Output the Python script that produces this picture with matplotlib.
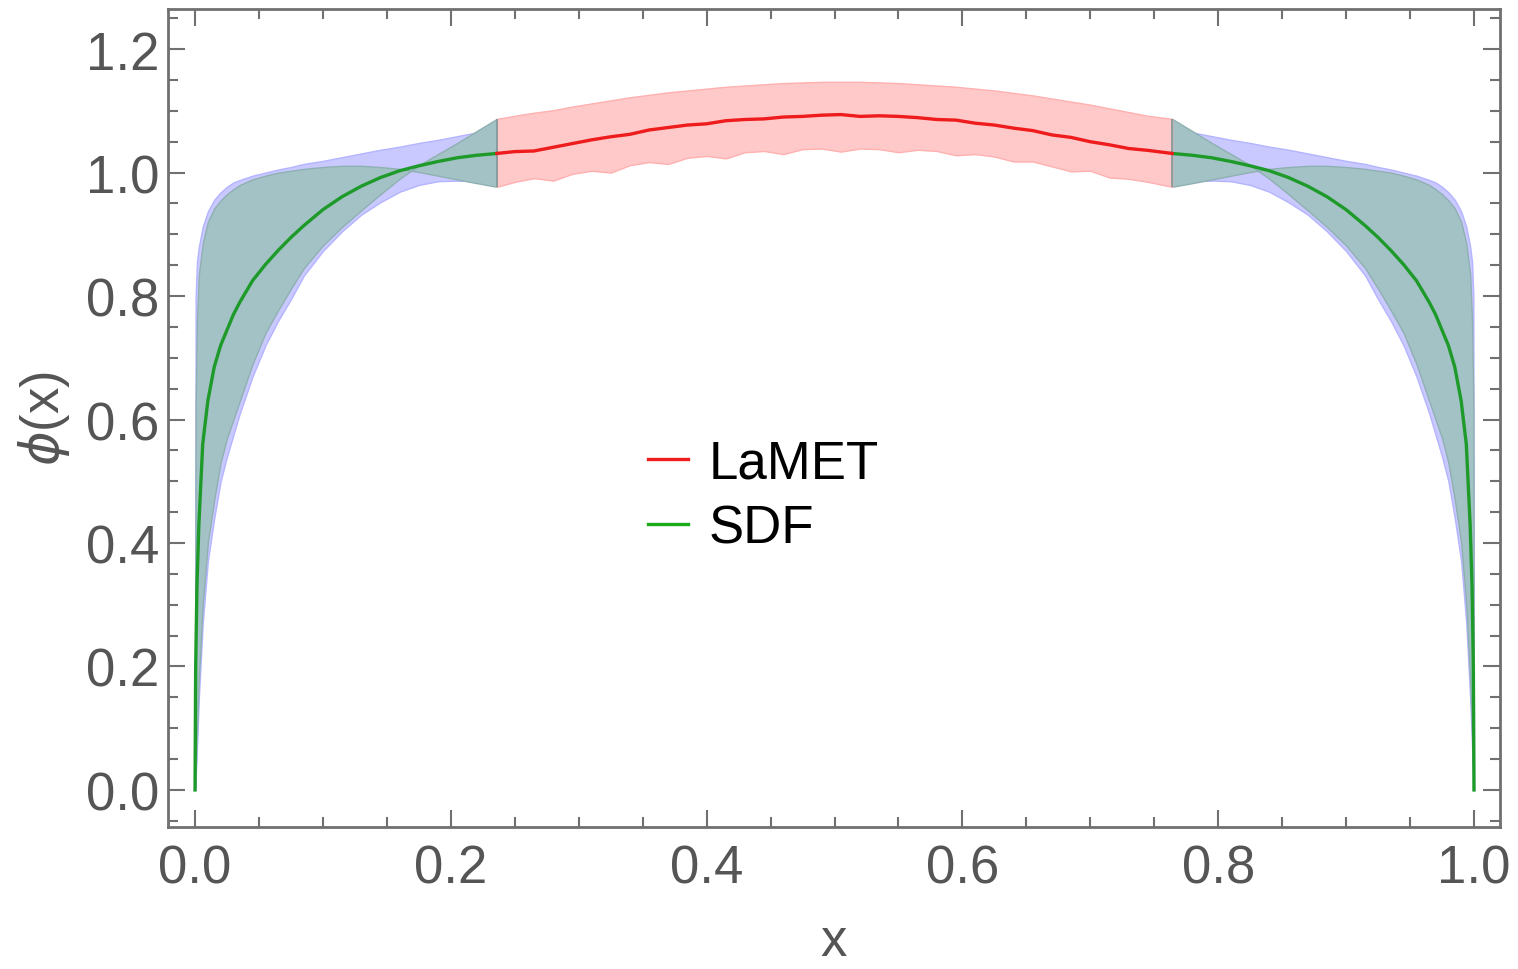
import numpy as np
import matplotlib
matplotlib.use("Agg")
import matplotlib.pyplot as plt
from matplotlib.ticker import MultipleLocator

# SDF curve and its two error bands on the left end-point region (0 <= x <= 0.236);
# the right end-point region is the mirror image x -> 1 - x
x_end = [0.0, 0.0005, 0.0015, 0.003, 0.006, 0.01, 0.015, 0.02, 0.025, 0.03,
         0.035, 0.045, 0.055, 0.065, 0.075, 0.085, 0.1, 0.115, 0.13, 0.145,
         0.16, 0.175, 0.19, 0.205, 0.22, 0.236]
sdf_mid = [0.0, 0.2, 0.33, 0.43, 0.56, 0.63, 0.685, 0.72, 0.745, 0.77,
           0.79, 0.825, 0.851, 0.874, 0.895, 0.914, 0.94, 0.961, 0.978, 0.992,
           1.003, 1.011, 1.018, 1.024, 1.028, 1.031]
sdf_edge_a = [0.0, 0.62, 0.76, 0.835, 0.885, 0.92, 0.942, 0.955, 0.965, 0.973,
              0.98, 0.989, 0.995, 1.0, 1.003, 1.006, 1.009, 1.011, 1.011, 1.009,
              1.006, 1.001, 0.995, 0.989, 0.983, 0.977]
sdf_edge_b = [0.0, 0.03, 0.09, 0.18, 0.3, 0.4, 0.47, 0.53, 0.57, 0.6,
              0.63, 0.69, 0.74, 0.777, 0.812, 0.845, 0.882, 0.912, 0.939, 0.965,
              0.99, 1.012, 1.03, 1.048, 1.067, 1.087]
wide_hi = [0.0, 0.8, 0.855, 0.88, 0.912, 0.937, 0.956, 0.968, 0.977, 0.984,
           0.988, 0.995, 1.0, 1.005, 1.009, 1.014, 1.019, 1.025, 1.031, 1.037,
           1.042, 1.048, 1.053, 1.059, 1.065, 1.07]
wide_lo = [0.0, 0.02, 0.07, 0.15, 0.27, 0.37, 0.44, 0.5, 0.54, 0.575,
           0.61, 0.67, 0.72, 0.76, 0.795, 0.833, 0.873, 0.905, 0.932, 0.952,
           0.969, 0.98, 0.986, 0.987, 0.986, 0.985]

# LaMET result in the middle region
x_lamet = [0.236, 0.25, 0.265, 0.28, 0.295, 0.31, 0.325, 0.34, 0.355, 0.37,
           0.385, 0.4, 0.415, 0.43, 0.445, 0.46, 0.475, 0.49, 0.505, 0.52,
           0.535, 0.55, 0.565, 0.58, 0.595, 0.61, 0.625, 0.64, 0.655, 0.67,
           0.685, 0.7, 0.715, 0.73, 0.745, 0.764]
lamet_mid = [1.031, 1.034, 1.035, 1.041, 1.047, 1.053, 1.058, 1.062, 1.069, 1.073,
             1.077, 1.079, 1.084, 1.086, 1.087, 1.09, 1.091, 1.093, 1.094, 1.091,
             1.092, 1.091, 1.089, 1.086, 1.085, 1.08, 1.077, 1.072, 1.068, 1.061,
             1.057, 1.05, 1.045, 1.039, 1.036, 1.031]
lamet_hi = [1.087, 1.092, 1.097, 1.101, 1.107, 1.112, 1.117, 1.122, 1.126, 1.13,
            1.133, 1.136, 1.139, 1.141, 1.143, 1.145, 1.146, 1.147, 1.147, 1.147,
            1.146, 1.145, 1.143, 1.141, 1.139, 1.136, 1.133, 1.129, 1.125, 1.12,
            1.115, 1.11, 1.104, 1.098, 1.092, 1.087]
lamet_lo = [0.977, 0.985, 0.991, 0.987, 0.998, 1.003, 1.0, 1.012, 1.017, 1.014,
            1.024, 1.027, 1.023, 1.033, 1.035, 1.03, 1.038, 1.039, 1.034, 1.039,
            1.038, 1.033, 1.037, 1.035, 1.028, 1.03, 1.026, 1.018, 1.018, 1.01,
            1.002, 1.003, 0.992, 0.99, 0.985, 0.977]

x_ticks = [0.0, 0.2, 0.4, 0.6, 0.8, 1.0]
y_ticks = [0.0, 0.2, 0.4, 0.6, 0.8, 1.0, 1.2]

plt.rcParams['font.family'] = ['Liberation Sans', 'DejaVu Sans']
plt.rcParams['mathtext.fontset'] = 'dejavusans'

gray = '#707070'
txt = '#555555'

fig = plt.figure(figsize=(15.18, 9.70), dpi=100)
ax = fig.add_axes([0.1107, 0.1464, 0.8774, 0.8433])

xl = np.array(x_end)
xr = 1 - xl[::-1]


def mirror(vals):
    return np.array(vals)[::-1]


# wide (blue) band underneath, SDF (teal) band on top
for xs, lo, hi in [(xl, wide_lo, wide_hi), (xr, mirror(wide_lo), mirror(wide_hi))]:
    ax.fill_between(xs, lo, hi, color='#c9c9ff', edgecolor='#b4b4ff', lw=1.0, zorder=1)
for xs, a, b in [(xl, sdf_edge_a, sdf_edge_b), (xr, mirror(sdf_edge_a), mirror(sdf_edge_b))]:
    ax.fill_between(xs, a, b, color='#a3c2c5', edgecolor='#8fb0b2', lw=1.0, zorder=2)
ax.vlines([x_end[-1], 1 - x_end[-1]], sdf_edge_a[-1], sdf_edge_b[-1],
          color='#7d9799', lw=1.2, zorder=3)

ax.fill_between(x_lamet, lamet_lo, lamet_hi, color='#ffc9c9', edgecolor='#ffb0b0',
                lw=1.0, zorder=2)

ax.plot(xl, sdf_mid, color='#1e9a2a', lw=2.4, zorder=4)
ax.plot(xr, mirror(sdf_mid), color='#1e9a2a', lw=2.4, zorder=4)
ax.plot(x_lamet, lamet_mid, color='#ee1c1c', lw=2.4, zorder=4)

ax.set_xlim(-0.0211, 1.0203)
ax.set_ylim(-0.060, 1.265)

ax.set_xticks(x_ticks)
ax.set_yticks(y_ticks)
ax.set_xticklabels([f'{v:.1f}' for v in x_ticks])
ax.set_yticklabels([f'{v:.1f}' for v in y_ticks])
ax.xaxis.set_minor_locator(MultipleLocator(0.05))
ax.yaxis.set_minor_locator(MultipleLocator(0.05))
ax.tick_params(which='both', direction='in', top=True, right=True, color=gray,
               width=1.5, labelsize=38, labelcolor=txt)
ax.tick_params(which='major', length=12)
ax.tick_params(which='minor', length=7)
ax.tick_params(axis='x', which='major', pad=12)
ax.tick_params(axis='y', which='major', pad=6)
for sp in ax.spines.values():
    sp.set_color(gray)
    sp.set_linewidth(2.0)

ax.set_xlabel('x', fontsize=38, color=txt, labelpad=16)
ax.set_ylabel(r'$\phi$(x)', fontsize=38, color=txt, labelpad=10)

h1, = ax.plot([], [], color='#ee1c1c', lw=2.4)
h2, = ax.plot([], [], color='#1aaa1a', lw=2.4)
ax.legend([h1, h2], ['LaMET', 'SDF'], loc='center left', bbox_to_anchor=(0.3604, 0.405),
          frameon=False, fontsize=38, handlelength=0.75, handletextpad=0.4,
          labelspacing=0.28, borderpad=0, borderaxespad=0)

fig.savefig('out.png', dpi=100)
